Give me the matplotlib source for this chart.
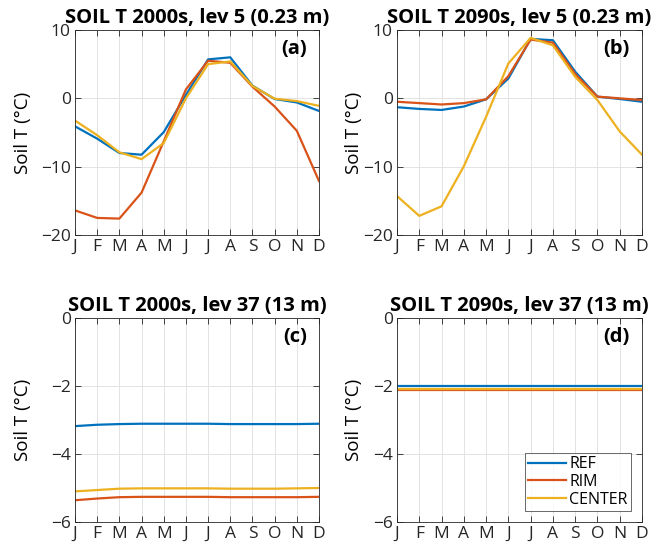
import matplotlib
matplotlib.use("Agg")
import matplotlib.pyplot as plt
import numpy as np

plt.rcParams['font.family'] = ['Open Sans', 'DejaVu Sans']

months = ["J", "F", "M", "A", "M", "J", "J", "A", "S", "O", "N", "D"]
series_names = ["REF", "RIM", "CENTER"]
colors = ["#0072BD", "#D95319", "#EDB120"]

titles = ["SOIL T 2000s, lev 5 (0.23 m)", "SOIL T 2090s, lev 5 (0.23 m)",
          "SOIL T 2000s, lev 37 (13 m)", "SOIL T 2090s, lev 37 (13 m)"]
panel_labels = ["(a)", "(b)", "(c)", "(d)"]

# Panel (a)
a_ref = [-4.1, -5.9, -8.0, -8.25, -4.95, 0.5, 5.7, 6.0, 1.85, -0.1, -0.6, -1.85]
a_rim = [-16.4, -17.5, -17.6, -13.8, -6.3, 1.3, 5.5, 5.2, 1.7, -1.2, -4.75, -12.1]
a_center = [-3.25, -5.4, -7.9, -8.9, -6.55, 0.0, 5.0, 5.4, 1.8, -0.05, -0.4, -1.1]
# Panel (b)
b_ref = [-1.3, -1.55, -1.7, -1.2, -0.15, 2.9, 8.7, 8.5, 3.9, 0.25, -0.1, -0.5]
b_rim = [-0.5, -0.7, -0.9, -0.7, -0.15, 3.25, 8.6, 8.15, 3.55, 0.25, 0.0, -0.25]
b_center = [-14.3, -17.2, -15.8, -9.95, -2.7, 5.1, 8.85, 7.75, 3.15, -0.25, -4.85, -8.25]
# Panel (c)
c_ref = [-3.18, -3.14, -3.12, -3.11, -3.11, -3.11, -3.11, -3.12, -3.12, -3.12, -3.12, -3.11]
c_rim = [-5.36, -5.31, -5.27, -5.26, -5.26, -5.26, -5.26, -5.27, -5.27, -5.27, -5.27, -5.26]
c_center = [-5.10, -5.06, -5.02, -5.01, -5.01, -5.01, -5.01, -5.02, -5.02, -5.02, -5.01, -5.00]
# Panel (d)
d_ref = [-2.0] * 12
d_rim = [-2.13] * 12
d_center = [-2.09] * 12

panels = [(a_ref, a_rim, a_center), (b_ref, b_rim, b_center),
          (c_ref, c_rim, c_center), (d_ref, d_rim, d_center)]
ylims = [(-20, 10), (-20, 10), (-6, 0), (-6, 0)]
yticks = [[-20, -10, 0, 10], [-20, -10, 0, 10], [-6, -4, -2, 0], [-6, -4, -2, 0]]

W, H = 670, 549
fig = plt.figure(figsize=(6.7, 5.49), dpi=100)
boxes = [(75, 30, 319, 235), (397, 30, 642, 235), (75, 318, 319, 522), (397, 318, 642, 522)]
ylabel_right = [32, 363, 32, 363]

x = np.arange(12)
for i, (box, data) in enumerate(zip(boxes, panels)):
    x0, y0, x1, y1 = box
    ax = fig.add_axes([x0 / W, 1 - y1 / H, (x1 - x0) / W, (y1 - y0) / H])
    for vals, name, c in zip(data, series_names, colors):
        ax.plot(x, vals, color=c, lw=1.6, label=name)
    ax.set_xlim(0, 11)
    ax.set_ylim(*ylims[i])
    ax.set_xticks(x)
    ax.set_xticklabels(months)
    ax.set_yticks(yticks[i])
    ax.set_yticklabels([str(t).replace("-", "\u2212") for t in yticks[i]])
    ax.grid(True, color="#e3e3e3", lw=0.7)
    ax.set_axisbelow(True)
    ax.tick_params(direction="in", top=True, right=True, labelsize=12.5,
                   colors="#262626", length=4, width=0.6, pad=3)
    for s in ax.spines.values():
        s.set_color("#262626")
        s.set_linewidth(0.6)
    ax.set_title(titles[i], fontsize=14.5, fontweight="bold", pad=5)
    ax.set_ylabel("Soil T (°C)", fontsize=13.5)
    ax.yaxis.set_label_coords((ylabel_right[i] - x0) / (x1 - x0), 0.5)
    ax.text(0.95, 0.905, panel_labels[i], transform=ax.transAxes, ha="right", va="center",
            fontsize=14.5, fontweight="bold")
    if i == 3:
        leg = ax.legend(loc="lower right", fontsize=11.5, frameon=True, fancybox=False,
                        edgecolor="#262626", borderpad=0.2, handlelength=2.4,
                        labelspacing=0.1, handletextpad=0.2, borderaxespad=0.7)
        leg.get_frame().set_linewidth(0.6)

fig.savefig("out.png", dpi=100)
